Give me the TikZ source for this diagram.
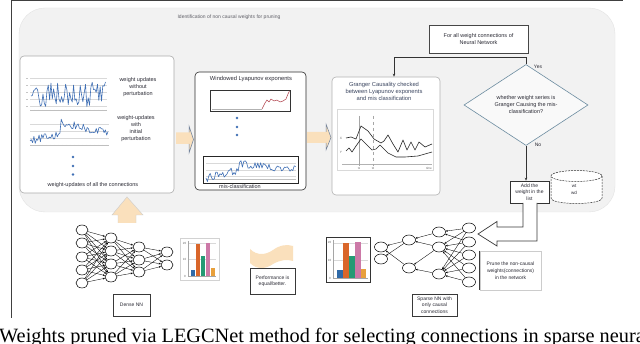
\documentclass[tikz,border=0pt]{standalone}
\usepackage{fontspec}
\setmainfont{Liberation Sans}
\newfontfamily\capfont{Liberation Serif}
\usetikzlibrary{shapes.geometric,arrows.meta,calc}
\definecolor{bggray}{HTML}{F2F2F2}
\definecolor{peach}{HTML}{FAE0BC}
\definecolor{peachedge}{HTML}{6F819B}
\definecolor{plotblue}{HTML}{3F6FB5}
\definecolor{txt}{HTML}{2B2B35}
\definecolor{gtxt}{HTML}{3B4660}
\definecolor{redline}{HTML}{B0404A}
\definecolor{barblue}{HTML}{2F6AA8}
\definecolor{barorange}{HTML}{D9662A}
\definecolor{bargreen}{HTML}{249A74}
\definecolor{barpink}{HTML}{CC79A7}
\definecolor{baryellow}{HTML}{E8A03C}
\definecolor{diaedge}{HTML}{6C8CA0}
\tikzset{
  box/.style={draw=gray!65, fill=white, rounded corners=4, line width=0.6, inner sep=0},
  plainbox/.style={draw=gray!60!black, fill=white, line width=0.6, inner sep=0},
  lbl/.style={font=\fontsize{5.5}{7}\selectfont, text=txt, align=center, inner sep=0},
  neuron/.style={ellipse, draw=black, fill=white, line width=0.5, minimum width=12, minimum height=10, inner sep=0},
  nnedge/.style={line width=0.35, -{Stealth[length=2.2pt,width=1.8pt]}},
  conn/.style={line width=0.7, draw=black!80, -{Stealth[length=3pt,width=2.5pt]}},
  gridl/.style={draw=gray!30, line width=0.3},
  bline/.style={draw=plotblue, line width=0.6, line join=round},
  kline/.style={draw=black!85, line width=0.6, line join=round},
  dot/.style={circle, fill=plotblue, minimum size=2.6, inner sep=0},
}
\begin{document}
\begin{tikzpicture}[x=1pt,y=-1pt]
\useasboundingbox (0,0) rectangle (640,344);
\clip (0,0) rectangle (640,344);
\fill[white] (0,0) rectangle (640,344);
\pgfmathsetseed{11}

% outer frame
\draw[line width=0.8, draw=black!75] (11,318) -- (11,0.5) -- (623,0.5);

% grey panel
\node[draw=gray!22, fill=bggray, rounded corners=26, minimum width=596, minimum height=204, inner sep=0] (panel) at (317,110) {};
\node[font=\fontsize{5}{6}\selectfont, text=txt!75, inner sep=0] (title) at (229,17) {Identification of non causal weights for pruning};

% ---------- Box 1 : weight updates ----------
\node[box, minimum width=154, minimum height=137] (b1) at (97,124.5) {};
\foreach \yy in {78,85,92,99,106} \draw[gridl] (30,\yy) -- (107,\yy);
\draw[gray!50, line width=0.3] (30,110) -- (107,110);
\foreach \xx in {30,34,...,106} \draw[gray!50, line width=0.3] (\xx,110) -- (\xx,111.5);
\foreach \yy in {78,85,92,99,106} \draw[gray!45, line width=0.4] (26,\yy) -- (28,\yy);
\draw[bline] (31,96) \foreach \i in {1,...,56} { -- ({31+\i*1.33},{95+14*rand}) };
\foreach \yy in {124,131,138} \draw[gridl] (30,\yy) -- (109,\yy);
\draw[gray!50, line width=0.3] (30,145) -- (109,145);
\foreach \xx in {30,34,...,108} \draw[gray!50, line width=0.3] (\xx,145) -- (\xx,146.5);
\draw[bline] (30,141) \foreach \i in {1,...,60} { -- ({30+\i*1.3},{ifthenelse(\i<24,141-0.3*\i,123+0.28*(\i-24))+4*rand}) };
\node[lbl] (t1a) at (138,87) {weight updates\\without\\perturbation};
\node[lbl] (t1b) at (136,128.5) {weight-updates\\with\\initial\\perturbation};
\node[dot] (d1a) at (73,157) {};
\node[dot] (d1b) at (73,166) {};
\node[dot] (d1c) at (73,174.5) {};
\node[lbl] (t1c) at (93,185) {weight-updates of all the connections};

% ---------- Box 2 : Lyapunov ----------
\node[box, draw=gray!35!black, minimum width=111, minimum height=118] (b2) at (250.5,131) {};
\node[lbl, font=\fontsize{5.8}{7}\selectfont] (t2) at (251,79) {Windowed Lyapunov exponents};
\node[draw=black!80, fill=white, line width=0.6, minimum width=80, minimum height=21, inner sep=0] (ly1) at (250,100.5) {};
\draw[draw=gray!60, line width=0.4] (212,109) -- (262,109);
\draw[draw=redline, line width=0.5, line join=round] (262,109) -- (265,103) -- (267,100) -- (269,102) -- (271,99) -- (274,101) -- (277,100) -- (280,102) -- (283,101) -- (286,99) -- (288,94) -- (289.5,91);
\node[dot] (d2a) at (237,118) {};
\node[dot] (d2b) at (237,127) {};
\node[dot] (d2c) at (237,135) {};
\node[draw=black!85, fill=white, line width=0.8, minimum width=95, minimum height=27, inner sep=0] (ly2) at (250.5,169.5) {};
\foreach \yy in {163,170,176} \draw[gridl] (206,\yy) -- (296,\yy);
\draw[gray!50, line width=0.3] (206,179.5) -- (296,179.5);
\draw[bline] (206,178) \foreach \i in {1,...,64} { -- ({206+\i*1.4},{ifthenelse(\i<24,178-0.35*\i,164+0.14*(\i-24))+4*rand}) };
\node[lbl] (t2b) at (240,187) {mis-classification};

% ---------- Box 3 : Granger ----------
\node[box, draw=gray!60, minimum width=108, minimum height=118] (b3) at (386,136) {};
\node[lbl, text=gtxt, font=\fontsize{5.8}{7}\selectfont] (t3) at (384,91) {Granger Causality checked\\between Lyapunov exponents\\and mis classification};
\node[draw=gray!30, fill=white, line width=0.5, minimum width=96, minimum height=61, inner sep=0] (gc) at (385,139.5) {};
\draw[gray!60, line width=0.4] (342,164) -- (432,164);
\draw[gray!70, line width=0.4] (359,116) -- (359,166);
\draw[gray!70, line width=0.4, dashed] (373,116) -- (373,166);
\draw[kline] (346,138) -- (351,137) -- (356,139) -- (361,126) -- (368,131) -- (374,139) -- (381,143) -- (384,141) -- (388,135) -- (393,144) -- (398,152) -- (403,140) -- (407,150) -- (411,142) -- (415,150) -- (419,142) -- (425,147) -- (432,144);
\draw[kline] (346,151) -- (349,148) -- (352,152) -- (356,146) -- (361,139) -- (368,146) -- (372,150) -- (376,149) -- (380,145) -- (388,153) -- (396,157) -- (405,157) -- (418,156) -- (432,152);
\node[font=\fontsize{3.2}{4}\selectfont, text=gray!80!black, inner sep=0] (gx) at (341,138) {X};
\node[font=\fontsize{3.2}{4}\selectfont, text=gray!80!black, inner sep=0] (gy) at (341,152) {Y};
\node[font=\fontsize{3}{4}\selectfont, text=gray!80!black, inner sep=0] (gt1) at (359,168) {t1};
\node[font=\fontsize{3}{4}\selectfont, text=gray!80!black, inner sep=0] (gt2) at (373,168) {t2};
\node[font=\fontsize{3}{4}\selectfont, text=gray!80!black, inner sep=0] (gtm) at (429,168) {time};

% ---------- peach arrows between boxes ----------
\fill[peach] (176,132.5) -- (189,132.5) -- (189,126) -- (193.5,139.5) -- (189,153) -- (189,144) -- (176,144) -- cycle;
\draw[peachedge, line width=0.5] (189,132.5) -- (189,126) -- (193.5,139.5) -- (189,153) -- (189,144);
\fill[peach] (307,132) -- (326,132) -- (326,124) -- (331,137.5) -- (326,150) -- (326,143) -- (307,143) -- cycle;
\draw[peachedge, line width=0.5] (326,132) -- (326,124) -- (331,137.5) -- (326,150) -- (326,143);

% ---------- For all box, diamond, add, database ----------
\node[plainbox, draw=gray!55!black, minimum width=99, minimum height=28, lbl] (fa) at (478.5,39) {For all weight connections of\\Neural Network};
\node[diamond, draw=diaedge, fill=gray!5, line width=0.6, minimum width=124, minimum height=72, inner sep=0, lbl] (dia) at (526,105) {whether weight series is\\Granger Causing the mis-\\classification?};
\coordinate (ybend) at (394,57);
\draw[conn] (dia.north) |- (ybend) -- (ybend |- b3.north);
\node[font=\fontsize{5}{6}\selectfont, text=txt, inner sep=0] (yes) at (538,67) {Yes};
\node[plainbox, draw=gray!40!black, minimum width=39, minimum height=22, lbl, font=\fontsize{5}{6.6}\selectfont] (add) at (529.5,192) {Add the\\weight in the\\list};
\draw[conn] (dia.south) -- (dia.south |- add.north);
\node[font=\fontsize{5}{6}\selectfont, text=txt, inner sep=0] (no) at (538,145) {No};
% database
\fill[white] (551,176) -- (551,198) .. controls (551,205.3) and (602,205.3) .. (602,198) -- (602,176) -- cycle;
\draw[gray!40!black, line width=0.5, dash pattern=on 2pt off 1pt] (551,176) -- (551,198) .. controls (551,205.3) and (602,205.3) .. (602,198) -- (602,176);
\draw[gray!40!black, fill=white, line width=0.5, dash pattern=on 2pt off 1pt] (576.5,176) ellipse [x radius=25.5, y radius=5.5];
\node[lbl, font=\fontsize{4.5}{6.5}\selectfont] (db) at (574,189.5) {wt\\wd};

% elbow outline arrow
\draw[fill=white, draw=gray!45!black, line width=0.7, line join=miter] (523,203) -- (523,227) -- (497,227) -- (497,221.5) -- (478,234) -- (497,246) -- (497,241) -- (537,241) -- (537,203);

% up arrow from dense NN
\fill[peach] (118,223) -- (118,215) -- (112,215) -- (127,197) -- (143,215) -- (136,215) -- (136,223) -- cycle;
\draw[gray!40, line width=0.4] (118,223) -- (118,215) -- (112,215) -- (127,197) -- (143,215) -- (136,215) -- (136,223);

% ---------- Dense NN ----------
\foreach \n/\yy in {1/230,2/243,3/257,4/270,5/283} \node[neuron] (d\n) at (82,\yy) {};
\foreach \n/\yy in {1/238,2/251,3/264,4/277} \node[neuron] (e\n) at (111,\yy) {};
\foreach \n/\yy in {1/247,2/260,3/272} \node[neuron] (f\n) at (139,\yy) {};
\foreach \n/\yy in {1/252,2/265} \node[neuron] (g\n) at (167,\yy) {};
\foreach \a in {1,...,5} \foreach \b in {1,...,4} \draw[nnedge] (d\a) -- (e\b);
\foreach \a in {1,...,4} \foreach \b in {1,...,3} \draw[nnedge] (e\a) -- (f\b);
\foreach \a in {1,...,3} \foreach \b in {1,2} \draw[nnedge] (f\a) -- (g\b);
\node[plainbox, draw=gray!45!black, minimum width=37, minimum height=22, lbl, font=\fontsize{5}{6}\selectfont] (dense) at (131.5,305) {Dense NN};

% bar chart 1
\node[draw=gray!35, fill=white, line width=0.5, minimum width=39, minimum height=42, inner sep=0] (bc1) at (199.5,259) {};
\draw[gridl] (188,243) -- (216,243);
\draw[gridl] (188,259.5) -- (216,259.5);
\fill[barblue] (190.5,276) rectangle (195,270);
\fill[barorange] (195.5,276) rectangle (200,244);
\fill[bargreen] (200.5,276) rectangle (205,256);
\fill[barpink] (205.5,276) rectangle (210,243);
\fill[baryellow] (210.5,276) rectangle (215,268);
\draw[gray!70, line width=0.4] (188,241) -- (188,276) -- (216,276);
\node[font=\fontsize{3}{4}\selectfont, text=gray!80!black, inner sep=0] (bl1a) at (184.5,243) {20};
\node[font=\fontsize{3}{4}\selectfont, text=gray!80!black, inner sep=0] (bl1b) at (184.5,259.5) {10};
\node[font=\fontsize{3}{4}\selectfont, text=gray!80!black, inner sep=0] (bl1c) at (185,276) {0};

% performance banner
\fill[peach] (250,249) .. controls (257,256) and (266,255) .. (273,250) .. controls (280,245) and (287,244) .. (293,246) -- (293,261) .. controls (287,259) and (280,260) .. (273,264) .. controls (266,269) and (257,270) .. (250,263) -- cycle;
\node[plainbox, draw=gray!45!black, line width=0.8, minimum width=45, minimum height=26, lbl, font=\fontsize{5}{6.5}\selectfont] (perf) at (272.5,281) {Performance is\\equal/better.};

% bar chart 2
\node[draw=gray!40!black, fill=white, line width=0.6, minimum width=44, minimum height=45, inner sep=0] (bc2) at (348,259.5) {};
\draw[gridl] (333,243) -- (368,243);
\draw[gridl] (333,260.5) -- (368,260.5);
\fill[barblue] (337,278) rectangle (342.5,270);
\fill[barorange] (343,278) rectangle (348.5,243);
\fill[bargreen] (349,278) rectangle (354.5,256);
\fill[barpink] (355,278) rectangle (360.5,242);
\fill[baryellow] (361,278) rectangle (366,269);
\draw[gray!70, line width=0.4] (333,240) -- (333,278) -- (368,278);
\node[font=\fontsize{3}{4}\selectfont, text=gray!80!black, inner sep=0] (bl2a) at (329.5,242) {20};
\node[font=\fontsize{3}{4}\selectfont, text=gray!80!black, inner sep=0] (bl2b) at (329.5,260.5) {10};
\node[font=\fontsize{3}{4}\selectfont, text=gray!80!black, inner sep=0] (bl2c) at (330,278) {0};

% ---------- Sparse NN ----------
\node[neuron, minimum width=13] (s11) at (381,247) {};
\node[neuron, minimum width=13] (s12) at (381,259) {};
\node[neuron, minimum width=13] (s21) at (409,240) {};
\node[neuron, minimum width=13] (s22) at (409,268) {};
\node[neuron, minimum width=13] (s31) at (439,232) {};
\node[neuron, minimum width=13] (s32) at (439,247) {};
\node[neuron, minimum width=13] (s33) at (439,274) {};
\foreach \n/\yy in {1/228,2/242,3/255,4/268,5/282} \node[neuron, minimum width=13] (s4\n) at (469,\yy) {};
\draw[nnedge] (s21) -- (s11);
\draw[nnedge] (s22) -- (s11);
\draw[nnedge] (s21) -- (s12);
\draw[nnedge] (s31) -- (s21);
\draw[nnedge] (s32) -- (s21);
\draw[nnedge] (s32) -- (s22);
\draw[nnedge] (s33) -- (s22);
\draw[nnedge] (s41) -- (s31);
\draw[nnedge] (s42) -- (s31);
\draw[nnedge] (s41) -- (s32);
\foreach \b in {2,...,5} \draw[nnedge] (s4\b) -- (s32);
\foreach \b in {1,...,5} \draw[nnedge] (s4\b) -- (s33);
\node[plainbox, draw=gray!45!black, minimum width=45, minimum height=22, lbl, font=\fontsize{5}{6.6}\selectfont] (sparse) at (434.5,305) {Sparse NN with\\only causal\\connections};
\node[plainbox, draw=gray!40, minimum width=61, minimum height=39, lbl, font=\fontsize{5}{7}\selectfont] (prune) at (510.5,270.5) {Prune the non-causal\\weights(connections)\\in the network};
\draw[gray!45!black, line width=0.7] (prune.north west) -- (prune.south west);

% ---------- caption (cut by the picture's edge, as in the reference) ----------
\node[anchor=base west, font=\capfont\fontsize{20.3}{24}\selectfont, inner sep=0] (cap) at (-1,342.5) {Weights pruned via LEGCNet method for selecting connections in sparse neural networks};
\end{tikzpicture}
\end{document}
